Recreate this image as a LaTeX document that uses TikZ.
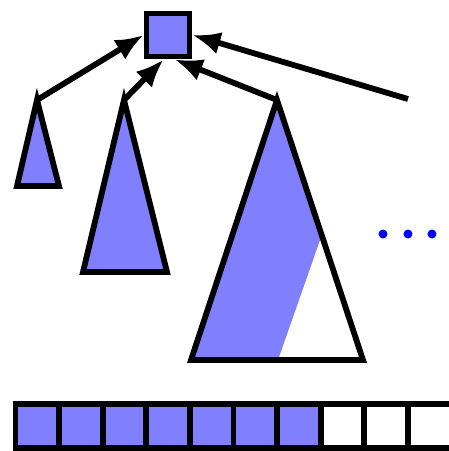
\documentclass[tikz,border=0pt]{standalone}
\usepackage{tikz}
\usetikzlibrary{arrows.meta,calc}

\tikzset{
  treefill/.style={fill=blue!50},
  ptr/.style={-{Latex[length=16pt,width=13pt]},line width=3.3pt},
}

\begin{document}
\begin{tikzpicture}[x=0.02cm,y=-0.02cm,line width=3.3pt]
  \useasboundingbox (0,0) rectangle (449,451);
  \clip (0,0) rectangle (449,451);
  % Root node
  \node[draw,fill=blue!50,minimum size=0.86cm,inner sep=0pt,line width=3.3pt] (root) at (168,35) {};
  % Tree apexes and bases
  \coordinate (t1) at (37,100);
  \coordinate (t1l) at (17,186);
  \coordinate (t1r) at (59,186);
  \coordinate (t2) at (124,100);
  \coordinate (t2l) at (83,272);
  \coordinate (t2r) at (167,272);
  \coordinate (t3) at (277,100);
  \coordinate (t3l) at (191,360);
  \coordinate (t3r) at (363,360);
  \coordinate (tail) at (408,99);
  % Trees
  \draw[treefill] (t1) -- (t1l) -- (t1r) -- cycle;
  \draw[treefill] (t2) -- (t2l) -- (t2r) -- cycle;
  \fill[blue!50] (t3) -- (t3l) -- (278,360) -- ($(t3)!0.52!(t3r)$) -- cycle;
  \draw (t3) -- (t3l) -- (t3r) -- cycle;
  % Pointers to root
  \draw[ptr] (t1) -- (root.west);
  \draw[ptr] (t2) -- (root.-100);
  \draw[ptr] (t3) -- (root.-75);
  \draw[ptr] (tail) -- (root.east);
  % Dots
  \foreach \x in {383,408,432}
    \fill[blue] (\x,234) circle (4.5);
  % Array
  \foreach \i in {0,...,10} {
    \ifnum\i<7
      \draw[fill=blue!50] ({15.5+\i*43.6},404) rectangle ++(43.6,44);
    \else
      \draw ({15.5+\i*43.6},404) rectangle ++(43.6,44);
    \fi
  }
\end{tikzpicture}
\end{document}
